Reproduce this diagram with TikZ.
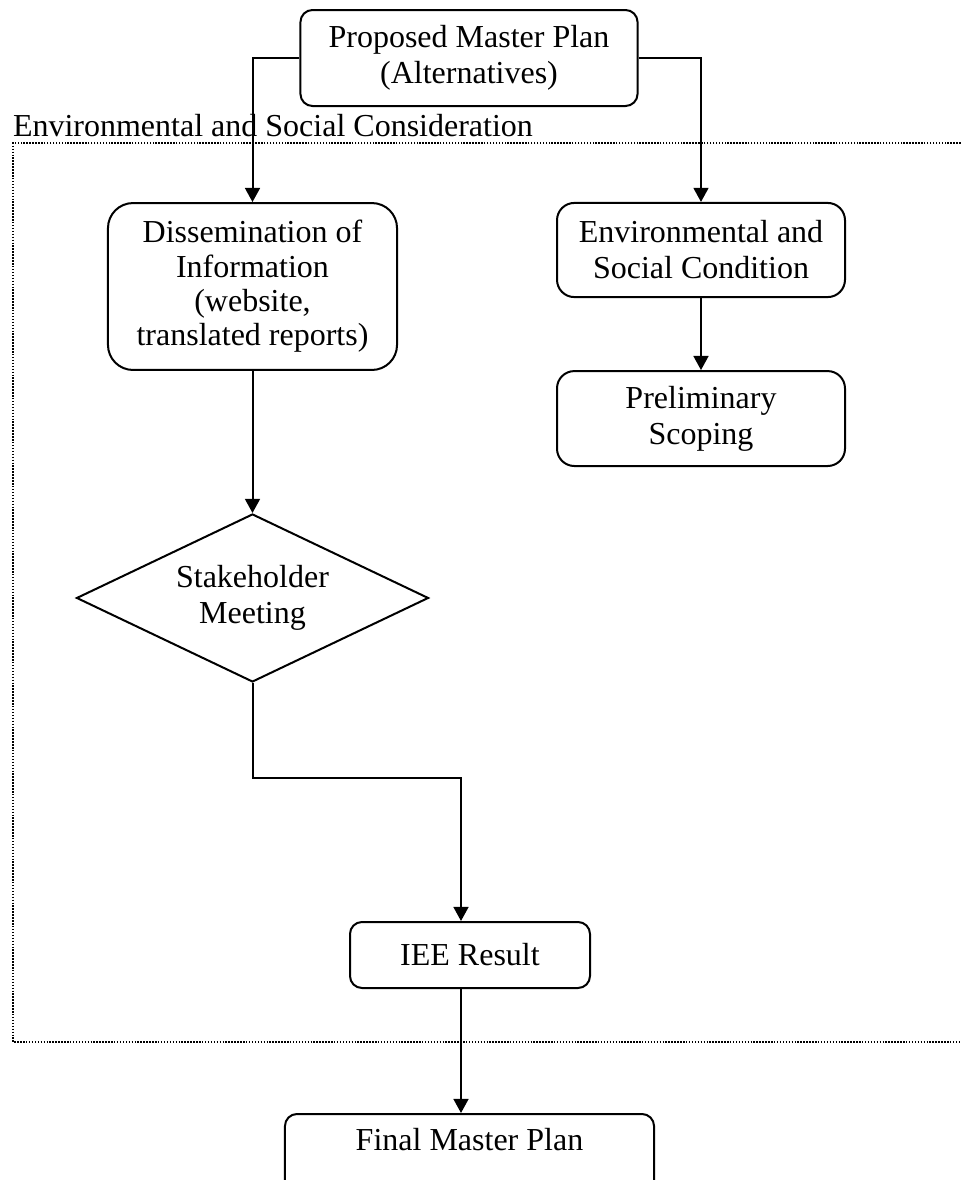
\documentclass[tikz,border=0pt]{standalone}
\usepackage{fontspec}
\setmainfont{Liberation Serif}
\usetikzlibrary{shapes.geometric,arrows.meta}

\begin{document}
\begin{tikzpicture}[x=0.375pt, y=-0.375pt, line width=0.75pt, font=\fontsize{12}{13.5}\selectfont,
  block/.style={draw, rounded corners=4.5pt, align=center, inner sep=2pt},
  arr/.style={-{Triangle[length=5.3pt,width=5.6pt]}},
  frame/.style={line width=0.6pt, dash pattern=on 0.55pt off 0.55pt},]
  \clip (0,0) rectangle (961,1180);
  \node[block, minimum width=126.4pt, minimum height=36pt] (plan) at (469,58) {Proposed Master Plan\\(Alternatives)};
  \node[anchor=base west, inner sep=0pt] (frametitle) at (12,136.7) {Environmental and Social Consideration};
  \draw[frame] (990,143) -- (13,143) -- (13,1042) -- (990,1042);
  \node[block, rounded corners=9.4pt, minimum width=108.4pt, minimum height=62.6pt, font=\fontsize{12}{12.9}\selectfont] (dissem) at (252.5,286.5) {Dissemination of\\Information\\(website,\\translated reports)};
  \node[block, rounded corners=6.5pt, minimum width=108pt, minimum height=35.3pt] (envcond) at (701,250) {Environmental and\\Social Condition};
  \node[block, rounded corners=6.5pt, minimum width=108pt, minimum height=35.6pt, below of=envcond, node distance=63.2pt] (prelim) {Preliminary\\Scoping};
  \node[draw, diamond, aspect=2.1, inner sep=0pt, align=center, minimum width=132pt, minimum height=63pt, below of=dissem, node distance=116.8pt] (stake) {Stakeholder\\Meeting};
  \node[block, minimum width=90pt, minimum height=24.75pt] (iee) at (470,955) {IEE Result};
  \node[block, minimum width=138.4pt, minimum height=30pt, text height=8.6pt, text depth=10.9pt] (final) at (469.5,1154) {Final Master Plan};
  \coordinate (bend) at (461,778);
  \draw[arr] (plan.west) -| (dissem.north);
  \draw[arr] (plan.east) -| (envcond.north);
  \draw[arr] (envcond) -- (prelim);
  \draw[arr] (dissem) -- (stake);
  \draw[arr] (stake.south) |- (bend) -- (bend |- iee.north);
  \draw[arr] (iee.south -| bend) -- (final.north -| bend);
\end{tikzpicture}
\end{document}
